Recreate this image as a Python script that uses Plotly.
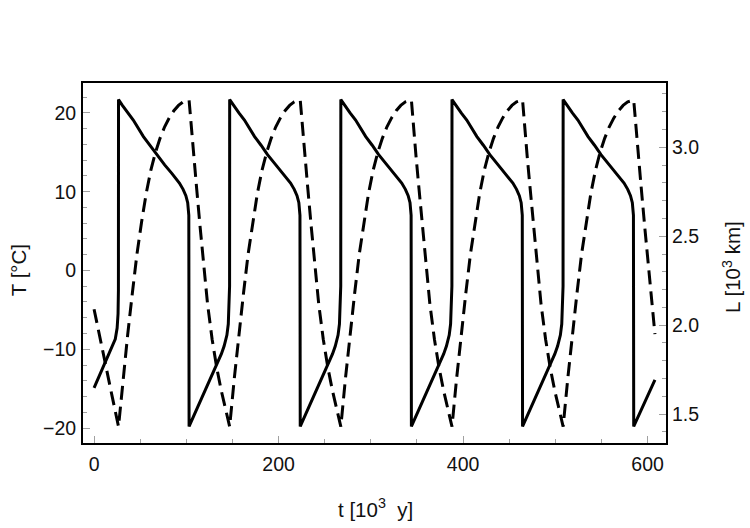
import plotly.graph_objects as go

# ---- data ----
t_T = [0, 5, 10, 15, 20, 23, 25, 26, 26.4,
       26.5, 30.5, 36.5, 42.5, 53.5, 60.5, 67.5, 76.5, 84.5, 92.5, 96.5, 99.5, 101.5, 102.7, 103,
       108, 113, 118, 123, 128, 133, 138, 141, 144, 145.5, 146.5, 146.9,
       147, 151, 157, 163, 174, 181, 188, 197, 205, 213, 217, 220, 222, 223.2, 223.5,
       228.5, 233.5, 238.5, 243.5, 248.5, 253.5, 258.5, 261.5, 264.5, 266, 267, 267.4,
       267.5, 271.5, 277.5, 283.5, 294.5, 301.5, 308.5, 317.5, 325.5, 333.5, 337.5, 340.5, 342.5, 343.7, 344,
       349, 354, 359, 364, 369, 374, 379, 382, 385, 386.5, 387.5, 387.9,
       388, 392, 398, 404, 415, 422, 429, 438, 446, 454, 458, 461, 463, 464.2, 464.5,
       469.5, 474.5, 479.5, 484.5, 489.5, 494.5, 499.5, 502.5, 505.5, 507, 508, 508.4,
       508.5, 512.5, 518.5, 524.5, 535.5, 542.5, 549.5, 558.5, 566.5, 574.5, 578.5, 581.5, 583.5, 584.7, 585,
       590, 595, 600, 605, 608]
T_vals = [-14.9, -13.6, -12.3, -11.0, -9.7, -8.7, -7.3, -5.5, -2.5,
          21.7, 21.0, 20.0, 19.1, 17.0, 15.9, 14.7, 13.4, 12.3, 11.1, 10.3, 9.5, 8.6, 7.0, -19.8,
          -18.5, -17.2, -15.9, -14.6, -13.3, -12.0, -10.6, -9.6, -8.2, -6.8, -4.5, -2.0,
          21.7, 21.0, 20.0, 19.1, 17.0, 15.9, 14.7, 13.4, 12.3, 11.1, 10.3, 9.5, 8.6, 7.0, -19.8,
          -18.5, -17.2, -15.9, -14.6, -13.3, -12.0, -10.6, -9.6, -8.2, -6.8, -4.5, -2.0,
          21.7, 21.0, 20.0, 19.1, 17.0, 15.9, 14.7, 13.4, 12.3, 11.1, 10.3, 9.5, 8.6, 7.0, -19.8,
          -18.5, -17.2, -15.9, -14.6, -13.3, -12.0, -10.6, -9.6, -8.2, -6.8, -4.5, -2.0,
          21.7, 21.0, 20.0, 19.1, 17.0, 15.9, 14.7, 13.4, 12.3, 11.1, 10.3, 9.5, 8.6, 7.0, -19.8,
          -18.5, -17.2, -15.9, -14.6, -13.3, -12.0, -10.6, -9.6, -8.2, -6.8, -4.5, -2.0,
          21.7, 21.0, 20.0, 19.1, 17.0, 15.9, 14.7, 13.4, 12.3, 11.1, 10.3, 9.5, 8.6, 7.0, -19.8,
          -18.5, -17.2, -15.9, -14.6, -13.9]

t_L = [0, 5, 10, 15, 20,
       26.5, 31.5, 36.5, 41.5, 46.5, 51.5, 56.5, 61.5, 66.5, 71.5, 76.5, 81.5, 86.5, 91.5, 96.5, 103,
       105, 108, 111, 115, 120, 123, 128, 133, 138, 143,
       147, 152, 157, 162, 167, 172, 177, 182, 187, 192, 197, 202, 207, 212, 217, 223.5,
       225.5, 228.5, 231.5, 235.5, 240.5, 243.5, 248.5, 253.5, 258.5, 263.5,
       267.5, 272.5, 277.5, 282.5, 287.5, 292.5, 297.5, 302.5, 307.5, 312.5, 317.5, 322.5, 327.5, 332.5, 337.5, 344,
       346, 349, 352, 356, 361, 364, 369, 374, 379, 384,
       388, 393, 398, 403, 408, 413, 418, 423, 428, 433, 438, 443, 448, 453, 458, 464.5,
       466.5, 469.5, 472.5, 476.5, 481.5, 484.5, 489.5, 494.5, 499.5, 504.5,
       508.5, 513.5, 518.5, 523.5, 528.5, 533.5, 538.5, 543.5, 548.5, 553.5, 558.5, 563.5, 568.5, 573.5, 578.5, 585,
       587, 590, 593, 597, 602, 605, 608]
L_vals = [2.09, 1.96, 1.84, 1.71, 1.59,
          1.43, 1.70, 1.95, 2.18, 2.40, 2.58, 2.74, 2.87, 2.97, 3.05, 3.115, 3.165, 3.205, 3.235, 3.255, 3.265,
          3.13, 2.95, 2.78, 2.55, 2.27, 2.12, 1.92, 1.76, 1.63, 1.51,
          1.43, 1.70, 1.95, 2.18, 2.40, 2.58, 2.74, 2.87, 2.97, 3.05, 3.115, 3.165, 3.205, 3.235, 3.255, 3.265,
          3.13, 2.95, 2.78, 2.55, 2.27, 2.12, 1.92, 1.76, 1.63, 1.51,
          1.43, 1.70, 1.95, 2.18, 2.40, 2.58, 2.74, 2.87, 2.97, 3.05, 3.115, 3.165, 3.205, 3.235, 3.255, 3.265,
          3.13, 2.95, 2.78, 2.55, 2.27, 2.12, 1.92, 1.76, 1.63, 1.51,
          1.43, 1.70, 1.95, 2.18, 2.40, 2.58, 2.74, 2.87, 2.97, 3.05, 3.115, 3.165, 3.205, 3.235, 3.255, 3.265,
          3.13, 2.95, 2.78, 2.55, 2.27, 2.12, 1.92, 1.76, 1.63, 1.51,
          1.43, 1.70, 1.95, 2.18, 2.40, 2.58, 2.74, 2.87, 2.97, 3.05, 3.115, 3.165, 3.205, 3.235, 3.255, 3.265,
          3.13, 2.95, 2.78, 2.55, 2.27, 2.12, 1.95]

x_ticks = [0, 200, 400, 600]
yT_ticks = [-20, -10, 0, 10, 20]
yL_ticks = [1.5, 2.0, 2.5, 3.0]

FONT = "Liberation Sans, Arial, sans-serif"
TICKC = "#a0a0a0"
TICKFONT = dict(family=FONT, size=19.5, color="#111111")
TITLEFONT = dict(family=FONT, size=20.5, color="#111111")

fig = go.Figure()
fig.add_trace(go.Scatter(x=t_T, y=T_vals, mode="lines", yaxis="y",
                         line=dict(color="black", width=3), showlegend=False))
fig.add_trace(go.Scatter(x=t_L, y=L_vals, mode="lines", yaxis="y2",
                         line=dict(color="black", width=3, dash="14px,7px"), showlegend=False))

fig.update_layout(
    width=750, height=528,
    margin=dict(l=83, r=84, t=83, b=85),
    paper_bgcolor="white", plot_bgcolor="white",
    font=dict(family=FONT, size=19, color="#111111"),
    xaxis=dict(range=[-12, 620], tickvals=x_ticks, ticks="inside", ticklen=7, tickcolor=TICKC,
               minor=dict(dtick=50, ticks="inside", ticklen=4, tickcolor=TICKC),
               showline=True, linecolor="black", linewidth=2, mirror=True,
               showgrid=False, zeroline=False, ticklabelstandoff=3, tickfont=TICKFONT),
    yaxis=dict(range=[-21.9, 23.8], tickvals=yT_ticks, ticks="inside", ticklen=7, tickcolor=TICKC,
               minor=dict(dtick=2, ticks="inside", ticklen=4, tickcolor=TICKC),
               showline=True, linecolor="black", linewidth=2,
               showgrid=False, zeroline=False, ticklabelstandoff=1, tickfont=TICKFONT),
    yaxis2=dict(range=[1.338, 3.361], tickvals=yL_ticks, tickformat=".1f", overlaying="y", side="right",
                ticks="inside", ticklen=7, tickcolor=TICKC,
                minor=dict(dtick=0.1, ticks="inside", ticklen=4, tickcolor=TICKC),
                showline=True, linecolor="black", linewidth=2,
                showgrid=False, zeroline=False, ticklabelstandoff=0, tickfont=TICKFONT),
    annotations=[
        dict(text="T [°C]", xref="paper", yref="paper", x=-0.1115, y=0.48, textangle=-90,
             showarrow=False, font=TITLEFONT, xanchor="center", yanchor="middle"),
        dict(text="L [10<sup>3</sup> km]", xref="paper", yref="paper", x=1.112, y=0.49, textangle=-90,
             showarrow=False, font=TITLEFONT, xanchor="center", yanchor="middle"),
        dict(text="t [10<sup>3</sup>  y]", xref="paper", yref="paper", x=0.5009, y=-0.18,
             showarrow=False, font=TITLEFONT, xanchor="center", yanchor="middle"),
    ],
)

fig.write_html("out.html")
